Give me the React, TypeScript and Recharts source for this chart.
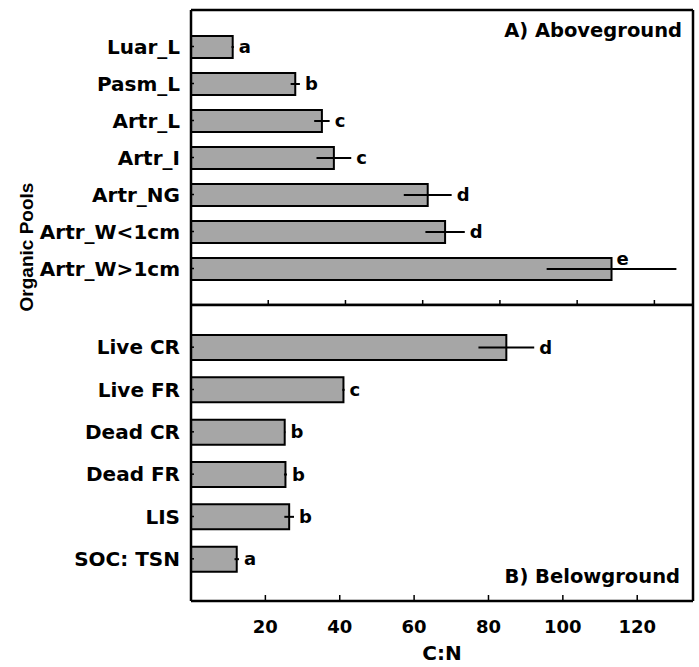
import React from 'react';
import { BarChart, Bar, XAxis, YAxis, ErrorBar, LabelList, Customized } from 'recharts';

// A) Aboveground
const aboveNames = ['Luar_L', 'Pasm_L', 'Artr_L', 'Artr_I', 'Artr_NG', 'Artr_W<1cm', 'Artr_W>1cm'];
const aboveMeans = [10.8, 27.0, 33.9, 37.0, 61.3, 65.8, 108.9];
const aboveErrs = [0.3, 1.2, 2.0, 4.5, 6.2, 5.1, 16.8];
const aboveLetters = ['a', 'b', 'c', 'c', 'd', 'd', 'e'];

// B) Belowground
const belowNames = ['Live CR', 'Live FR', 'Dead CR', 'Dead FR', 'LIS', 'SOC: TSN'];
const belowMeans = [84.8, 41.0, 25.2, 25.4, 26.4, 12.3];
const belowErrs = [7.5, 0.3, 0.2, 0.4, 1.3, 0.6];
const belowLetters = ['d', 'c', 'b', 'b', 'b', 'a'];

const xTicks = [20, 40, 60, 80, 100, 120];

const aboveData = aboveNames.map((name, i) => ({ name, mean: aboveMeans[i], err: aboveErrs[i] }));
const belowData = belowNames.map((name, i) => ({ name, mean: belowMeans[i], err: belowErrs[i] }));

const FONT = '"DejaVu Sans", sans-serif';
const ARIAL = '"Liberation Sans", Arial, sans-serif';
const PLOT_RIGHT = 693;
const BAR_FILL = '#a6a6a6';
const FRAME = 2.5;
const frameLine = { stroke: '#000', strokeWidth: FRAME };

const YTick = (props: any) => {
  const { x, y, payload } = props;
  return (
    <g>
      <line x1={x} y1={y} x2={x + 3} y2={y} stroke="#000" strokeWidth={1.5} />
      <text x={x - 11} y={y} dy={7} textAnchor="end" fontFamily={FONT} fontWeight="bold" fontSize={20} fill="#000">
        {payload.value}
      </text>
    </g>
  );
};

const XTickTop = (props: any) => {
  const { x, y } = props;
  return <line x1={x} y1={y} x2={x} y2={y - 5} stroke="#000" strokeWidth={1.5} />;
};

const XTickBottom = (props: any) => {
  const { x, y, payload } = props;
  return (
    <g>
      <line x1={x} y1={y} x2={x} y2={y - 6} stroke="#000" strokeWidth={1.5} />
      <text x={x} y={y + 32} textAnchor="middle" fontFamily={FONT} fontWeight="bold" fontSize={18} fill="#000">
        {payload.value}
      </text>
    </g>
  );
};

// letter label sits right of the error bar, or above it when there is no room
const letterLabel = (names: string[], means: number[], errs: number[], letters: string[]) => (props: any) => {
  const vb = props.viewBox || props;
  const { x, y, width, height } = vb;
  const i = names.indexOf(props.value);
  if (i < 0) return null;
  const pxPerUnit = width / means[i];
  const end = x + width;
  let lx = end + errs[i] * pxPerUnit + 5;
  let ly = y + height / 2 + 6;
  if (lx + 14 > PLOT_RIGHT) {
    lx = end + 5;
    ly = y + height / 2 - 4;
  }
  return (
    <text x={lx} y={ly} fontFamily={FONT} fontWeight="bold" fontSize={18} fill="#000">
      {letters[i]}
    </text>
  );
};

export default function App() {
  return (
    <div style={{ position: 'absolute', left: 0, top: 0, width: 699, height: 667, background: '#fff' }}>
      <div style={{ position: 'absolute', left: 0, top: 0 }}>
        <BarChart width={699} height={306} data={aboveData} layout="vertical" margin={{ top: 9, right: 5, bottom: 0, left: 0 }} barSize={22}>
          <XAxis type="number" domain={[0, 130]} ticks={xTicks} allowDataOverflow height={1} tickSize={0} tickMargin={0} tickLine={false} axisLine={frameLine} tick={XTickTop} />
          <XAxis xAxisId="t" orientation="top" type="number" domain={[0, 130]} height={1} tick={false} tickLine={false} axisLine={frameLine} />
          <YAxis type="category" dataKey="name" width={191} padding={{ top: 18, bottom: 18 }} tickSize={0} tickMargin={0} tickLine={false} axisLine={frameLine} tick={YTick} interval={0} />
          <YAxis yAxisId="r" orientation="right" type="category" dataKey="name" width={1} padding={{ top: 18, bottom: 18 }} tick={false} tickLine={false} axisLine={frameLine} />
          <Bar dataKey="mean" fill={BAR_FILL} stroke="#000" strokeWidth={2} isAnimationActive={false}>
            <ErrorBar dataKey="err" direction="x" width={0} stroke="#000" strokeWidth={2} />
            <LabelList dataKey="name" content={letterLabel(aboveNames, aboveMeans, aboveErrs, aboveLetters)} />
          </Bar>
          <Customized
            component={() => (
              <text x={682} y={37} textAnchor="end" fontFamily={FONT} fontWeight="bold" fontSize={19.5} fill="#000">
                A) Aboveground
              </text>
            )}
          />
        </BarChart>
      </div>
      <div style={{ position: 'absolute', left: 0, top: 0 }}>
        <BarChart width={699} height={667} data={belowData} layout="vertical" margin={{ top: 304, right: 5, bottom: 0, left: 0 }} barSize={25}>
          <XAxis type="number" domain={[0, 135]} ticks={xTicks} allowDataOverflow height={66} tickSize={0} tickMargin={0} tickLine={false} axisLine={frameLine} tick={XTickBottom} />
          <XAxis xAxisId="t" orientation="top" type="number" domain={[0, 135]} height={1} tick={false} tickLine={false} axisLine={frameLine} />
          <YAxis type="category" dataKey="name" width={191} padding={{ top: 21, bottom: 21 }} tickSize={0} tickMargin={0} tickLine={false} axisLine={frameLine} tick={YTick} interval={0} />
          <YAxis yAxisId="r" orientation="right" type="category" dataKey="name" width={1} padding={{ top: 21, bottom: 21 }} tick={false} tickLine={false} axisLine={frameLine} />
          <Bar dataKey="mean" fill={BAR_FILL} stroke="#000" strokeWidth={2} isAnimationActive={false}>
            <ErrorBar dataKey="err" direction="x" width={0} stroke="#000" strokeWidth={2} />
            <LabelList dataKey="name" content={letterLabel(belowNames, belowMeans, belowErrs, belowLetters)} />
          </Bar>
          <Customized
            component={() => (
              <g>
                <text x={680} y={583} textAnchor="end" fontFamily={FONT} fontWeight="bold" fontSize={19.5} fill="#000">
                  B) Belowground
                </text>
                <text x={442} y={660} textAnchor="middle" fontFamily={FONT} fontWeight="bold" fontSize={20} fill="#000">
                  C:N
                </text>
                <text x={33} y={247} transform="rotate(-90 33 247)" textAnchor="middle" fontFamily={ARIAL} fontWeight="bold" fontSize={19} fill="#000">
                  Organic Pools
                </text>
              </g>
            )}
          />
        </BarChart>
      </div>
    </div>
  );
}
